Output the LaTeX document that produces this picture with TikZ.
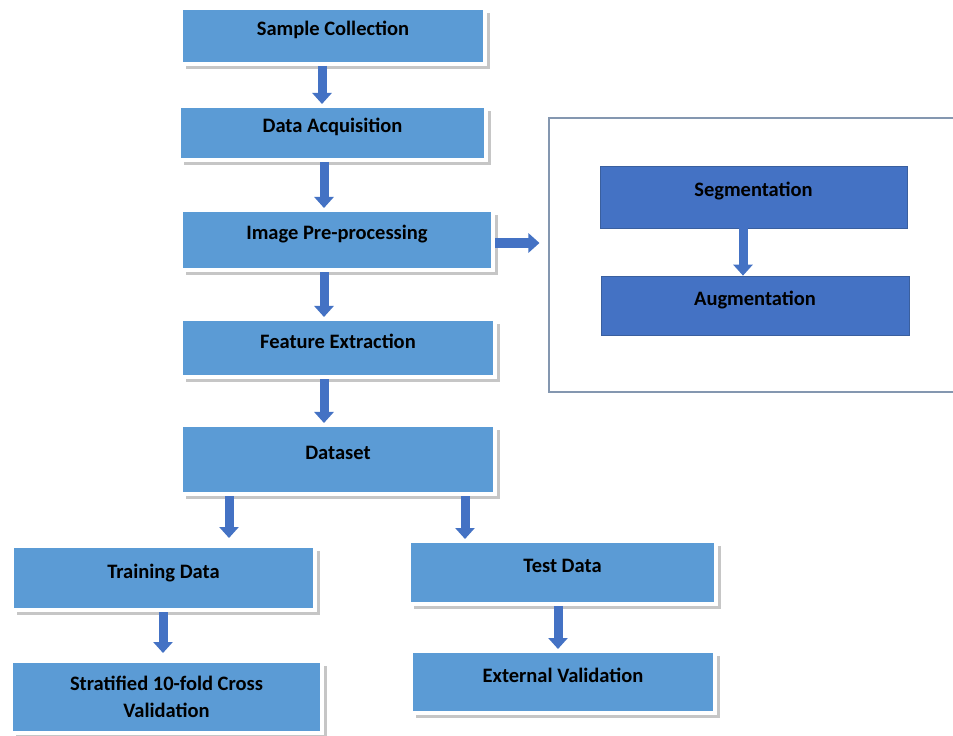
\documentclass[tikz,border=0pt]{standalone}
\usepackage{fontspec}
\setmainfont{Carlito}
\usetikzlibrary{arrows.meta,shadows}

\definecolor{stageblue}{HTML}{5B9BD5}
\definecolor{subblue}{HTML}{4472C4}
\definecolor{subedge}{HTML}{3A5F9E}
\definecolor{groupedge}{HTML}{8497B0}

\tikzset{
  stage/.style={draw=white, line width=0.12cm, fill=stageblue, inner sep=0pt,
    font=\bfseries\fontsize{17.5}{23}\selectfont, align=center,
    drop shadow={shadow xshift=0.16cm, shadow yshift=-0.16cm, fill=gray!45, opacity=1}},
  lifted/.style={text height=12pt, text depth=12pt},
  substage/.style={draw=subedge, line width=0.6pt, fill=subblue, inner sep=0pt,
    font=\bfseries\fontsize{17.5}{23}\selectfont, text height=12pt, text depth=12pt},
  flow/.style={draw=subblue, line width=0.27cm, -{Triangle[width=0.57cm,length=0.33cm]}}
}

\begin{document}
\begin{tikzpicture}[x=0.03cm, y=-0.03cm]
    \useasboundingbox (0,0) rectangle (953,736);
    \fill[white] (0,0) rectangle (953,736);

    % main pipeline
    \node[stage, lifted, minimum width=9.12cm, minimum height=1.68cm] (samp) at (333,36) {Sample Collection};
    \node[stage, lifted, minimum width=9.21cm, minimum height=1.62cm] (acq) at (332.5,133) {Data Acquisition};
    \node[stage, lifted, minimum width=9.36cm, minimum height=1.80cm] (pre) at (337,240) {Image Pre-processing};
    \node[stage, lifted, minimum width=9.42cm, minimum height=1.74cm] (feat) at (338,348) {Feature Extraction};
    \node[stage, lifted, minimum width=9.42cm, minimum height=2.07cm] (data) at (338,459.5) {Dataset};

    % split
    \node[stage, lifted, minimum width=9.09cm, minimum height=1.92cm] (train) at (163.5,578) {Training Data};
    \node[stage, minimum width=9.33cm, minimum height=2.16cm] (strat) at (166.5,697) {Stratified 10-fold Cross\\Validation};
    \node[stage, lifted, minimum width=9.21cm, minimum height=1.89cm] (test) at (562.5,572.5) {Test Data};
    \node[stage, lifted, minimum width=9.12cm, minimum height=1.86cm] (ext) at (563,682) {External Validation};

    % pre-processing details
    \node[draw=groupedge, line width=0.9pt, fill=white, minimum width=12.33cm, minimum height=8.22cm] (group) at (754.5,255) {};
    \node[substage, minimum width=9.21cm, minimum height=1.86cm] (seg) at (753.5,197) {Segmentation};
    \node[substage, minimum width=9.24cm, minimum height=1.77cm] (aug) at (755,305.5) {Augmentation};

    % arrows
    \draw[flow] (samp.south -| 322,0) -- (acq.north -| 322,0);
    \draw[flow] (acq.south -| 324,0) -- (pre.north -| 324,0);
    \draw[flow] (pre.south -| 324,0) -- (feat.north -| 324,0);
    \draw[flow] (feat.south -| 324,0) -- (data.north -| 324,0);
    \draw[flow, shorten >=0.18cm] (data.south -| 229,0) -- (train.north -| 229,0);
    \draw[flow] (data.south -| 465,0) -- (test.north -| 465,0);
    \draw[flow, shorten >=0.18cm] (train.south -| 163,0) -- (strat.north -| 163,0);
    \draw[flow] (test.south -| 558,0) -- (ext.north -| 558,0);
    \draw[flow] (seg.south -| 743,0) -- (aug.north -| 743,0);
    \draw[flow, shorten >=0.27cm] (pre.east |- 0,243) -- (group.west |- 0,243);
\end{tikzpicture}
\end{document}
